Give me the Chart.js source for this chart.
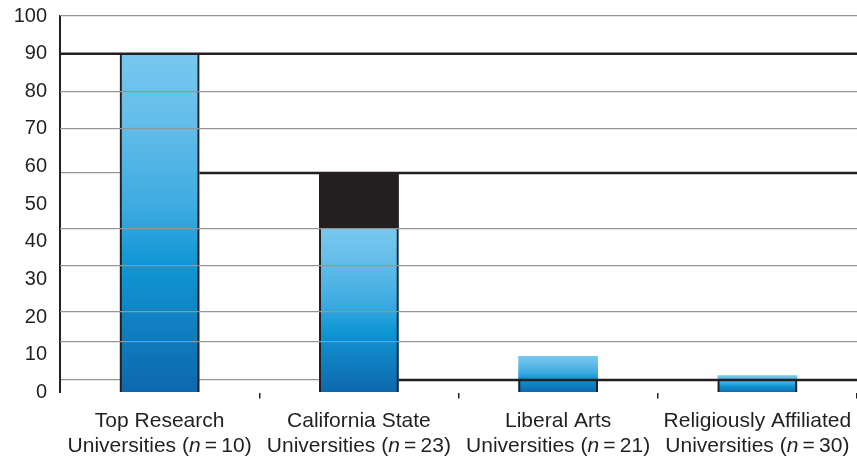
<!DOCTYPE html>
<html>
<head>
<meta charset="utf-8">
<script src="https://cdn.jsdelivr.net/npm/chart.js@4/dist/chart.umd.min.js"></script>
<style>
  html, body { margin: 0; padding: 0; background: #fff; }
  #wrap { width: 857px; height: 460px; }
</style>
</head>
<body>
<div id="wrap"><canvas id="uniChart"></canvas></div>
<script>
// categories and sample sizes
var categoryNames = ['Top Research', 'California State', 'Liberal Arts', 'Religiously Affiliated'];
var sampleSizes = [10, 23, 21, 30];

// blue bars, black segment on top (Cal State), outlined frames
var blueValues = [90.2, 43.4, 9.7, 4.6];
var blackTops = [null, 58.3, null, null];
var frameValues = [90, 58.3, 3.3, 3.3];

// black horizontal lines: level and where they start (category units)
var lineLevels = [90, 58.3, 3.3];
var lineStarts = [0, 0.7, 1.7];

// y ticks and the (uneven) grey grid lines
var yTicks = [0, 10, 20, 30, 40, 50, 60, 70, 80, 90, 100];
var gridValues = [100, 79.8, 70, 58.3, 43.4, 33.6, 21.6, 13.4, 3.3];

var ink = '#231f20';

function blueFill(c) {
    var chart = c.chart;
    if (!chart.chartArea || c.type !== 'data') return '#3aaae0';
    var y = chart.scales.y;
    var top = y.getPixelForValue(c.raw);
    var bottom = y.getPixelForValue(0);
    if (bottom - top < 1) return '#3aaae0';
    var g = chart.ctx.createLinearGradient(0, top, 0, bottom);
    g.addColorStop(0, '#77c8ef');
    g.addColorStop(0.2, '#64bde9');
    g.addColorStop(0.45, '#3eabe2');
    g.addColorStop(0.62, '#0f97d4');
    g.addColorStop(0.8, '#1180c2');
    g.addColorStop(1, '#0c68ac');
    return g;
}

// x labels drawn by hand so "n" can be italic
var xLabelPlugin = {
    id: 'xLabels',
    afterDraw: function(chart) {
        var ctx = chart.ctx;
        var xs = chart.scales.x;
        var fam = '"Liberation Sans", Arial, sans-serif';
        ctx.save();
        ctx.fillStyle = ink;
        ctx.textBaseline = 'alphabetic';
        categoryNames.forEach(function(name, i) {
            var cx = xs.getPixelForValue(i);
            ctx.font = '21px ' + fam;
            ctx.textAlign = 'center';
            ctx.fillText(name, cx, 427);
            var parts = [
                ['Universities (', 'normal'],
                ['n', 'italic'],
                ['\u2009=\u2009' + sampleSizes[i] + ')', 'normal']
            ];
            var total = 0;
            parts.forEach(function(p) {
                ctx.font = p[1] + ' 21px ' + fam;
                p.push(ctx.measureText(p[0]).width);
                total += p[2];
            });
            var x = cx - total / 2;
            ctx.textAlign = 'left';
            parts.forEach(function(p) {
                ctx.font = p[1] + ' 21px ' + fam;
                ctx.fillText(p[0], x, 452);
                x += p[2];
            });
        });
        ctx.restore();
    }
};

var lineSets = lineLevels.map(function(lv, i) {
    return {
        type: 'line',
        xAxisID: 'xl',
        data: [{ x: lineStarts[i], y: lv }, { x: categoryNames.length, y: lv }],
        borderColor: ink,
        borderWidth: 2.5,
        pointRadius: 0,
        order: 0
    };
});

// grid lines that sit under a black line are drawn below the data, the rest on top
var gridOver = gridValues.filter(function(v) { return lineLevels.indexOf(v) < 0; });
var gridUnder = gridValues.filter(function(v) { return lineLevels.indexOf(v) >= 0; });

function gridAxis(values, z) {
    return {
        position: 'right',
        min: 0,
        max: 100,
        afterBuildTicks: function(s) { s.ticks = values.map(function(v) { return { value: v }; }); },
        ticks: { display: false },
        grid: { color: '#959595', lineWidth: 1.2, drawTicks: false, z: z },
        border: { display: false },
        afterFit: function(s) { s.width = 0; s.paddingTop = 0; s.paddingBottom = 0; }
    };
}

var ctx = document.getElementById('uniChart').getContext('2d');
var uniChart = new Chart(ctx, {
    type: 'bar',
    data: {
        labels: categoryNames,
        datasets: [{
            data: blueValues,
            backgroundColor: blueFill,
            borderWidth: 0,
            grouped: false,
            order: 3
        }, {
            data: blackTops.map(function(t, i) { return t === null ? null : [blueValues[i], t]; }),
            backgroundColor: ink,
            borderWidth: 0,
            grouped: false,
            order: 2
        }, {
            data: frameValues,
            backgroundColor: 'rgba(0,0,0,0)',
            borderColor: ink,
            borderWidth: { left: 2, right: 2, top: 0, bottom: 0 },
            borderSkipped: false,
            grouped: false,
            order: 1
        }].concat(lineSets)
    },
    options: {
        responsive: true,
        maintainAspectRatio: false,
        animation: false,
        layout: { padding: { top: 16, right: 0, bottom: 0, left: 0 } },
        datasets: { bar: { categoryPercentage: 1, barPercentage: 0.4 } },
        plugins: { legend: { display: false }, tooltip: { enabled: false } },
        scales: {
            x: {
                ticks: { display: false },
                grid: {
                    offset: true,
                    drawOnChartArea: false,
                    drawTicks: true,
                    tickLength: 6,
                    lineWidth: 1.5,
                    color: function(c) {
                        return (c.index === 0 || c.index === categoryNames.length) ? 'rgba(0,0,0,0)' : ink;
                    }
                },
                border: { display: false },
                afterFit: function(s) { s.height = 67.5; s.paddingLeft = 0; s.paddingRight = 0; }
            },
            xl: {
                type: 'linear',
                min: 0,
                max: categoryNames.length,
                offset: false,
                grid: { offset: false },
                display: false
            },
            y: {
                min: 0,
                max: 100,
                afterBuildTicks: function(s) { s.ticks = yTicks.map(function(v) { return { value: v }; }); },
                ticks: {
                    color: ink,
                    padding: 13,
                    font: { family: '"Liberation Sans", Arial, sans-serif', size: 20 }
                },
                grid: { color: 'rgba(0,0,0,0)', drawTicks: false, drawOnChartArea: false },
                border: { display: true, color: ink, width: 2 },
                afterFit: function(s) { s.width = 60; s.paddingTop = 0; s.paddingBottom = 0; }
            },
            yg: gridAxis(gridOver, 1),
            yg2: gridAxis(gridUnder, -1)
        }
    },
    plugins: [xLabelPlugin]
});
</script>
</body>
</html>
